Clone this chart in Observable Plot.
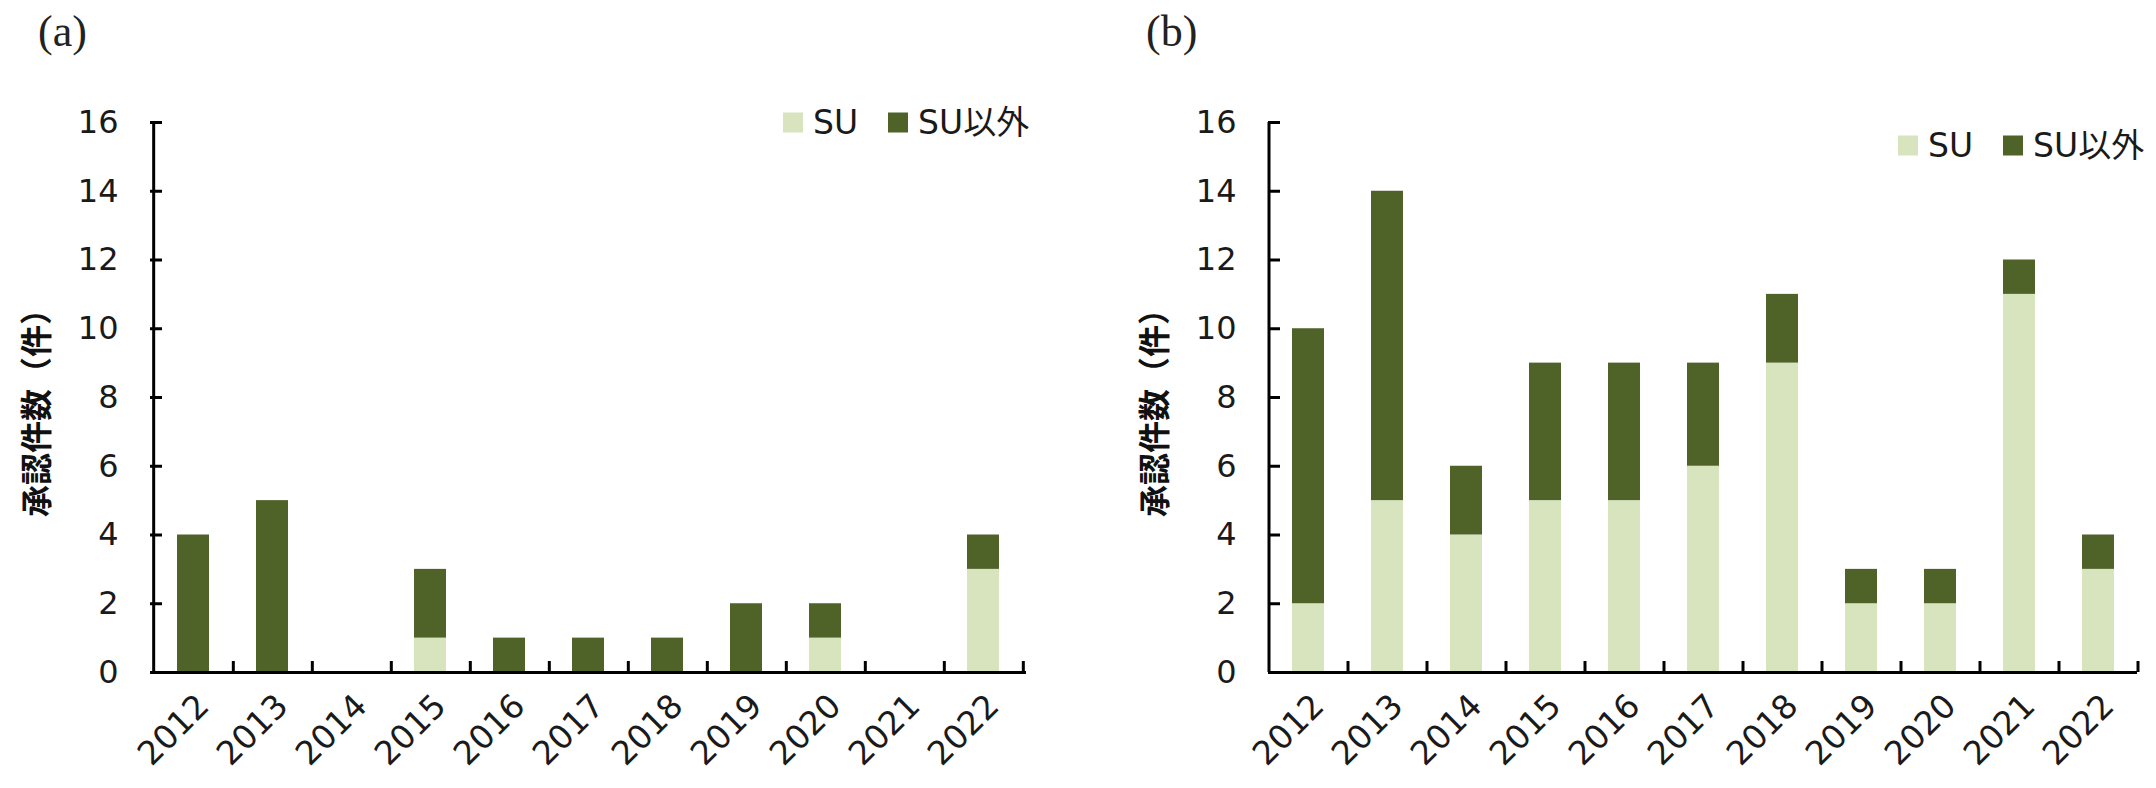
<!DOCTYPE html>
<html><head><meta charset="utf-8">
<script src="https://cdn.jsdelivr.net/npm/d3@7"></script>
<script src="https://cdn.jsdelivr.net/npm/@observablehq/plot@0.6"></script>
<style>
body{margin:0;background:#fff;}
#wrap{position:relative;width:2156px;height:788px;overflow:hidden;background:#fff;}
.panel{position:absolute;top:0;}
.plabel{position:absolute;font-family:"Liberation Serif","DejaVu Serif",serif;font-size:44px;line-height:1;color:#222;}
.ytitle{position:absolute;font-family:"Noto Sans CJK JP";font-weight:bold;font-size:32px;line-height:1;transform:translate(-50%,-50%) rotate(-90deg);white-space:nowrap;color:#111;}
.legend{position:absolute;display:flex;align-items:center;font-family:"DejaVu Sans","Noto Sans CJK JP",sans-serif;font-size:33px;line-height:1;color:#1a1a1a;transform:translateY(-50%);white-space:nowrap;}
.sw{width:20px;height:20px;display:inline-block;margin-right:10px;}
.item{display:flex;align-items:center;margin-right:30px;}
</style></head><body><div id="wrap"></div><script>
const years = ["2012","2013","2014","2015","2016","2017","2018","2019","2020","2021","2022"];
const seriesNames = ["SU","SU以外"];
const seriesColors = ["#d7e4bd","#4f6228"];
const suA    = [0,0,0,1,0,0,0,0,1,0,3];
const otherA = [4,5,0,2,1,1,1,2,1,0,1];
const suB    = [2,5,4,5,5,6,9,2,2,11,3];
const otherB = [8,9,2,4,4,3,2,1,1,1,1];
const yTicks = [0,2,4,6,8,10,12,14,16];
const yTitle = "承認件数（件）";
const panelLabels = ["(a)","(b)"];

const wrap = document.getElementById("wrap");
const H = 788, MT = 122, MB = 116;

function makePanel(su, other, cfg) {
  const rows = years.flatMap((y, i) => [
    {year: y, series: seriesNames[0], value: su[i]},
    {year: y, series: seriesNames[1], value: other[i]}
  ]);
  const plotW = cfg.width - cfg.ml - cfg.mr;
  const plotH = H - MT - MB;
  const step = plotW / years.length;
  const chart = Plot.plot({
    width: cfg.width, height: H,
    marginLeft: cfg.ml, marginRight: cfg.mr, marginTop: MT, marginBottom: MB,
    style: {fontFamily: "DejaVu Sans, sans-serif", fontSize: "32px", color: "#1a1a1a", background: "transparent", overflow: "visible"},
    x: {domain: years, paddingInner: 0.6, paddingOuter: 0.3},
    y: {domain: [0, 16]},
    color: {domain: seriesNames, range: seriesColors},
    marks: [
      Plot.barY(rows, {x: "year", y: "value", fill: "series"}),
      Plot.ruleY([0], {stroke: "black", strokeWidth: 3}),
      Plot.ruleX([years[0]], {dx: -step / 2, stroke: "black", strokeWidth: 3}),
      Plot.tickY(yTicks, {y: d => d, insetRight: plotW - 12, stroke: "black", strokeWidth: 3}),
      Plot.tickX(years, {x: d => d, dx: step / 2, insetTop: plotH - 11, stroke: "black", strokeWidth: 3}),
      Plot.axisY({ticks: yTicks, tickSize: 0, tickPadding: 32, label: null, tickFormat: d => String(d)}),
      Plot.axisX({tickRotate: -45, tickSize: 0, tickPadding: 28, dx: 10, fontSize: 33, label: null})
    ]
  });
  chart.classList.add("panel");
  chart.style.left = cfg.left + "px";
  wrap.appendChild(chart);

  const pl = document.createElement("div");
  pl.className = "plabel"; pl.textContent = cfg.label;
  pl.style.left = cfg.labelX + "px"; pl.style.top = "10px";
  wrap.appendChild(pl);

  const yt = document.createElement("div");
  yt.className = "ytitle"; yt.textContent = yTitle;
  yt.style.left = (cfg.left + cfg.ml - 116) + "px"; yt.style.top = "405px";
  wrap.appendChild(yt);

  const lg = document.createElement("div");
  lg.className = "legend";
  lg.style.left = cfg.legendX + "px"; lg.style.top = cfg.legendY + "px";
  seriesNames.forEach((n, i) => {
    const it = document.createElement("span"); it.className = "item";
    const sw = document.createElement("span"); sw.className = "sw"; sw.style.background = seriesColors[i];
    it.appendChild(sw); it.appendChild(document.createTextNode(n));
    lg.appendChild(it);
  });
  wrap.appendChild(lg);
}

makePanel(suA, otherA, {left: 0, width: 1100, ml: 150, mr: 74, label: panelLabels[0], labelX: 38, legendX: 783, legendY: 122});
makePanel(suB, otherB, {left: 1100, width: 1056, ml: 168, mr: 19, label: panelLabels[1], labelX: 1146, legendX: 1898, legendY: 145});
</script></body></html>
